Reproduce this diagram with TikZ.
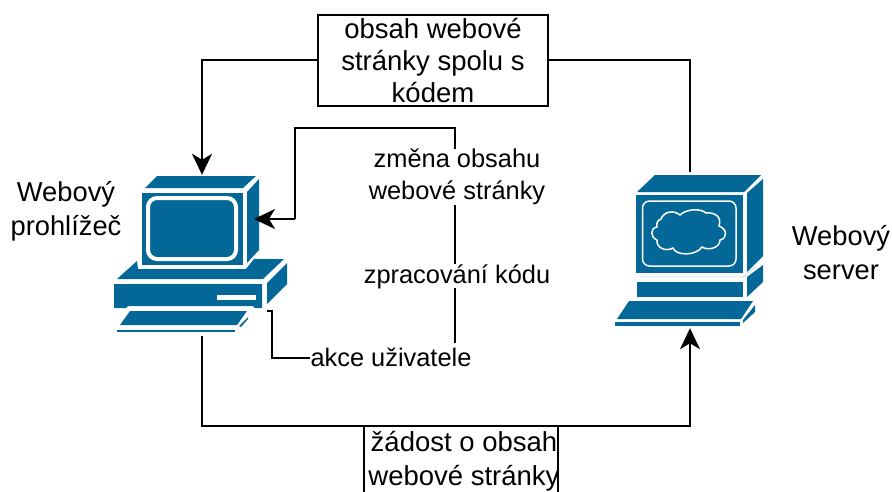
\documentclass[tikz,border=0pt]{standalone}
\usepackage{fontspec}
\setmainfont{Liberation Sans}
\usetikzlibrary{arrows.meta,calc}
\definecolor{cisco}{HTML}{036897}
\tikzset{
  box/.style={draw=black,line width=2.1pt,fill=white,inner sep=0pt},
  wire/.style={draw=black,line width=2.1pt},
  tip/.style={-{Stealth[inset=6pt,length=21pt,width=20pt]}},
  label/.style={inner sep=0pt,align=center,font=\fontsize{25.4}{32}\selectfont},
  boxlabel/.style={inner sep=0pt,align=center,font=\fontsize{27.5}{32}\selectfont},
  lowlabel/.style={inner sep=0pt,align=center,font=\fontsize{27.5}{34}\selectfont},
  sidelabel/.style={inner sep=0pt,align=center,font=\fontsize{27.3}{34}\selectfont},
  blue/.style={fill=cisco,draw=none},
  anchorbox/.style={inner sep=0pt,draw=none}
}
\begin{document}
\begin{tikzpicture}[x=1pt,y=-1pt]
\useasboundingbox (0,0) rectangle (892,491);
% --- nodes that carry connectors
\node[anchorbox,minimum width=118pt,minimum height=161pt] (client) at (202,255.5) {};
\node[anchorbox,minimum width=118pt,minimum height=156pt] (server) at (690,250) {};
\node[box,minimum width=230pt,minimum height=91pt] (top) at (433,60.5) {};
\node[box,minimum width=194pt,minimum height=74pt] (bottom) at (461,463) {};
\node[boxlabel] (toptext) at (433,61) {obsah webové\\stránky spolu s\\kódem};
\node[lowlabel] (bottomtext) at (464,461) {žádost o obsah\\webové stránky};
\node[sidelabel] (lclient) at (66,211) {Webový\\prohlížeč};
\node[sidelabel] (lserver) at (841,253) {Webový\\server};
% --- connectors
\draw[wire,tip] (top.west |- 0,60) -- (202,60) -- (client.north);
\draw[wire] (server.north) -- (690,60) -- (top.east |- 0,60);
\draw[wire] (client.south) -- (202,426) -- (bottom.west |- 0,426);
\draw[wire,tip] (bottom.east |- 0,426) -- (690,426) -- (server.south);
% --- browser icon
\fill[blue] (145,188) -- (157,176) -- (256,176) -- (243,188) -- cycle;
\fill[blue] (142,193) rectangle (243,265);
\fill[blue] (247,192) -- (259,179) -- (259,250) -- (247,263) -- cycle;
\draw[white,line width=4pt,rounded corners=9pt,fill=cisco] (148,198) rectangle (236,259);
\fill[blue] (117,279) -- (137,261) -- (138,269) -- (246,269) -- (254,259) -- (284,259) -- (263,279) -- cycle;
\fill[blue] (114,284) -- (262,284) -- (262,308) -- (255,308) -- (253,306) -- (128,306) -- (126,308) -- (114,308) -- cycle;
\fill[white] (217,295) rectangle (256,299.5);
\fill[blue] (267,283) -- (287,263) -- (287,284) -- (267,304) -- cycle;
\fill[blue] (130,311) -- (247,311) -- (237,325) -- (120,325) -- cycle;
\fill[blue] (117,330) rectangle (235,331.5);
\fill[blue] (239,326) -- (248,317) -- (248,319) -- (241,327) -- cycle;
% --- server icon
\fill[blue] (637,192) -- (655,175) -- (761,175) -- (744,192) -- cycle;
\fill[blue] (636,195) rectangle (743,273);
\fill[blue] (747,193) -- (763,179) -- (763,256) -- (747,272) -- cycle;
\draw[white,line width=1.5pt,rounded corners=7pt] (642.5,201) rectangle (736,266);
\draw[white,line width=1.5pt,fill=cisco]
  (661,219) .. controls (664,211) and (674,210) .. (680,215)
  .. controls (686,209) and (700,208) .. (706,213)
  .. controls (715,212) and (722,217) .. (719,226)
  .. controls (727,229) and (728,238) .. (720,240)
  .. controls (720,248) and (708,251) .. (702,247)
  .. controls (696,256) and (676,256) .. (673,248)
  .. controls (666,252) and (656,248) .. (657,240)
  .. controls (650,237) and (650,228) .. (657,227)
  .. controls (656,223) and (658,220) .. (661,219) -- cycle;
\draw[color={rgb,255:red,205;green,220;blue,232},line width=.8pt] (640,277) -- (743,277) -- (757,266);
\fill[blue] (637,282) rectangle (743,297);
\fill[blue] (747,277) -- (763,265) -- (763,282) -- (747,297) -- cycle;
\fill[blue] (629,301) -- (753,301) -- (741,319) -- (617,319) -- cycle;
\fill[blue] (615,322) rectangle (740,325.5);
\fill[blue] (743,320) -- (755,305) -- (755,312) -- (743,323) -- cycle;
% --- chain of labels and its connector
\coordinate (ctip) at (254,219);
\coordinate (cstart) at (267,311);
\node[label,anchor=base] (akce) at (391,366) {akce uživatele};
\node[label,anchor=base] (zprac) at (457,283) {zpracování kódu};
\node[label] (zmena) at (457,177) {změna obsahu\\webové stránky};
\draw[wire] (cstart) -- (272,311) -- (272,358) -- (akce.west |- 0,358);
\draw[wire] (455,343) -- (455,128) -- (295,128) -- (295,219);
\draw[wire,tip] (295,219) -- (ctip);
\fill[white] (zprac.south west) rectangle (zprac.north east);
\fill[white] (zmena.south west) rectangle (zmena.north east);
\node[label,anchor=base] at (zprac.base) {zpracování kódu};
\node[label] at (zmena) {změna obsahu\\webové stránky};
\end{tikzpicture}
\end{document}
